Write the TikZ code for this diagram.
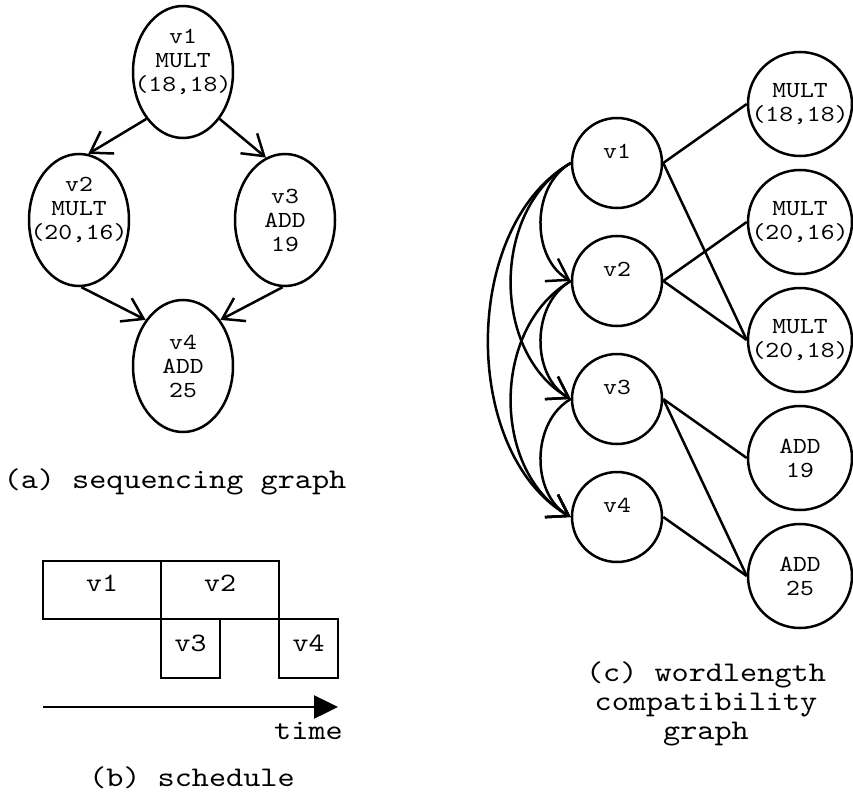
\documentclass[tikz,border=0pt]{standalone}
\usepackage{fontspec}
\usetikzlibrary{arrows.meta,shapes.geometric}
\IfFontExistsTF{lmmono10-regular.otf}
  {\newfontfamily\courf{lmmono10-regular.otf}[FakeStretch=1.145]}
  {\newfontfamily\courf{Liberation Mono}}
\newcommand{\nodefont}{\courf\fontsize{23}{24}\selectfont}
\begin{document}
\begin{tikzpicture}[x=1pt,y=1pt,line width=2.5pt,
  ell/.style={draw,ellipse,minimum width=100pt,minimum height=132pt,inner xsep=-16pt,inner ysep=-6pt,align=center,font=\nodefont},
  opc/.style={draw,circle,minimum size=90pt,inner sep=0pt,align=center,font=\nodefont},
  res/.style={draw,circle,minimum size=104pt,inner sep=-6pt,align=center,font=\nodefont},
  slot/.style={draw,rectangle,inner sep=0pt,font=\courf\fontsize{26.5}{28}\selectfont},
  captxt/.style={align=center,inner sep=0pt,font=\courf\fontsize{28.5}{29}\selectfont},
  arr/.style={-{Straight Barb[length=20pt,width=26pt]}}]
\useasboundingbox (0,0) rectangle (853,-802);
% (a) sequencing graph
\node[ell] (a1) at (183,-72) {v1\\MULT\\(18,18)\\\mbox{}};
\node[ell] (a2) at (79,-220) {v2\\MULT\\(20,16)\\\mbox{}};
\node[ell] (a3) at (285,-220) {v3\\ADD\\19};
\node[ell] (a4) at (183,-366) {v4\\ADD\\25};
\draw[arr] (a1.232) -- (a2.82);
\draw[arr] (a1.308) -- (a3.107);
\draw[arr] (a2.272) -- (a4.129);
\draw[arr] (a3.268) -- (a4.51);
\node[captxt] (capa) at (175,-482) {(a) sequencing graph};
% (b) schedule
\node[slot,minimum width=118pt,minimum height=58pt,text height=12pt,text depth=10pt] (b1) at (102,-590) {v1};
\node[slot,minimum width=118pt,minimum height=58pt,text height=12pt,text depth=10pt] (b2) at (220,-590) {v2};
\node[slot,minimum width=59pt,minimum height=59pt,text height=12pt,text depth=7pt] (b3) at (190.5,-648.5) {v3};
\node[slot,minimum width=59pt,minimum height=59pt,text height=12pt,text depth=7pt] (b4) at (308.5,-648.5) {v4};
\coordinate (t0) at (43,-707);
\coordinate (t1) at (338,-707);
\draw[-{Triangle[length=24pt,width=23pt]}] (t0) -- (t1);
\node[captxt] (time) at (308.5,-731) {time};
\node[captxt] (capb) at (192,-778) {(b) schedule};
% (c) wordlength compatibility graph
\node[opc] (c1) at (617,-163) {v1\\\mbox{}};
\node[opc] (c2) at (617,-281) {v2\\\mbox{}};
\node[opc] (c3) at (617,-399) {v3\\\mbox{}};
\node[opc] (c4) at (617,-517) {v4\\\mbox{}};
\node[res] (r1) at (800,-104) {MULT\\(18,18)};
\node[res] (r2) at (800,-222) {MULT\\(20,16)};
\node[res] (r3) at (800,-340) {MULT\\(20,18)};
\node[res] (r4) at (800,-458) {ADD\\19};
\node[res] (r5) at (800,-576) {ADD\\25};
\draw (c1.east) -- (r1.west);
\draw (c1.east) -- (r3.west);
\draw (c2.east) -- (r2.west);
\draw (c2.east) -- (r3.west);
\draw (c3.east) -- (r4.west);
\draw (c3.east) -- (r5.west);
\draw (c4.east) -- (r5.west);
\draw[arr] (c1.west) to[bend right=60] (c2.west);
\draw[arr] (c2.west) to[bend right=60] (c3.west);
\draw[arr] (c3.west) to[bend right=60] (c4.west);
\draw[arr] (c1.west) to[bend right=60] (c3.west);
\draw[arr] (c2.west) to[bend right=60] (c4.west);
\draw[arr] (c1.west) to[bend right=60,looseness=0.92] (c4.west);
\node[captxt] (capc) at (706,-704) {(c) wordlength\\compatibility\\graph};
\end{tikzpicture}
\end{document}
